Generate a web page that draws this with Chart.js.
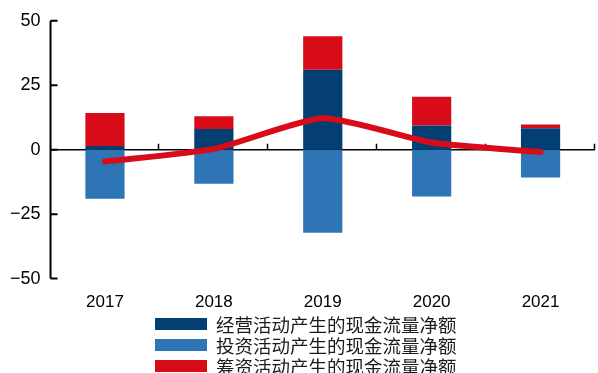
<!DOCTYPE html>
<html>
<head>
<meta charset="utf-8">
<script src="https://cdn.jsdelivr.net/npm/chart.js@4/dist/chart.umd.min.js"></script>
<style>
  body { margin: 0; background: #fff; }
  #wrap { position: relative; width: 598px; height: 373px; }
  #legend { position: absolute; left: 155px; top: 313px; font-family: "Noto Sans CJK SC", sans-serif; font-size: 18.5px; color: #1a1a1a; }
  .row { display: flex; align-items: center; height: 21px; }
  .box { width: 52px; height: 12px; margin-right: 9px; }
</style>
</head>
<body>
<div id="wrap">
  <canvas id="cashChart" width="598" height="373"></canvas>
  <div id="legend"></div>
</div>
<script>
// 年份
const years = ['2017', '2018', '2019', '2020', '2021'];
// 经营 / 投资 / 筹资 现金流量净额
const operating = [1.4, 8.0, 31.0, 9.4, 8.3];
const investing = [-19.0, -13.2, -32.2, -18.2, -10.8];
const financing = [12.8, 5.0, 13.0, 11.1, 1.5];
// 现金净增加额（折线）
const netChange = [-4.6, 0.3, 12.2, 2.8, -0.9];
const yTicks = [-50, -25, 0, 25, 50];

const colors = { operating: '#033f72', investing: '#2e75b6', financing: '#d80c18' };

// 坐标轴：零线、分类刻度、左侧纵轴
const axisLines = {
    id: 'axisLines',
    beforeDatasetsDraw(chart) {
        const { ctx, chartArea, scales: { x, y } } = chart;
        const y0 = y.getPixelForValue(0);
        ctx.save();
        ctx.strokeStyle = '#000';
        ctx.lineWidth = 1.5;
        ctx.beginPath();
        ctx.moveTo(chartArea.left, y0);
        ctx.lineTo(chartArea.right, y0);
        for (let i = 1; i <= years.length; i++) {
            const px = Math.round(x.getPixelForValue(i - 0.5)) - 0.5;
            ctx.moveTo(px, y0);
            ctx.lineTo(px, y0 - 6);
        }
        ctx.stroke();

        ctx.lineWidth = 2;
        ctx.beginPath();
        ctx.moveTo(chartArea.left, y.getPixelForValue(50));
        ctx.lineTo(chartArea.left, y.getPixelForValue(-50));
        yTicks.forEach(v => {
            const py = y.getPixelForValue(v);
            ctx.moveTo(chartArea.left, py);
            ctx.lineTo(chartArea.left + 7, py);
        });
        ctx.stroke();
        ctx.restore();
    }
};

const ctx = document.getElementById('cashChart').getContext('2d');
const chart = new Chart(ctx, {
    type: 'bar',
    data: {
        labels: years,
        datasets: [
            { label: '经营活动产生的现金流量净额', data: operating, backgroundColor: colors.operating, order: 1 },
            { label: '投资活动产生的现金流量净额', data: investing, backgroundColor: colors.investing, order: 1 },
            { label: '筹资活动产生的现金流量净额', data: financing, backgroundColor: colors.financing, order: 1 },
            {
                type: 'line', label: '现金净增加额', data: netChange, stack: 'net',
                borderColor: colors.financing, borderWidth: 6, tension: 0.2,
                pointRadius: 0, borderCapStyle: 'round', order: 0
            }
        ]
    },
    options: {
        responsive: false,
        animation: false,
        barPercentage: 0.36,
        categoryPercentage: 1,
        layout: { padding: { top: 8, left: 0, right: 3, bottom: 46 } },
        plugins: { legend: { display: false }, tooltip: { enabled: false } },
        scales: {
            x: {
                stacked: true,
                grid: { display: false, drawTicks: false },
                border: { display: false },
                ticks: { padding: 14, color: '#000', font: { family: 'Liberation Sans', size: 17 } }
            },
            y: {
                stacked: true,
                min: -50,
                max: 50,
                grid: { display: false, drawTicks: false },
                border: { display: false },
                afterBuildTicks: scale => { scale.ticks = yTicks.map(v => ({ value: v })); },
                ticks: {
                    padding: 10,
                    color: '#000',
                    font: { family: 'Liberation Sans', size: 18 },
                    callback: v => v < 0 ? '\u2212' + Math.abs(v) : v
                }
            }
        }
    },
    plugins: [axisLines]
});

// 图例
const legendEl = document.getElementById('legend');
chart.data.datasets.filter(ds => ds.type !== 'line').forEach(ds => {
    const row = document.createElement('div');
    row.className = 'row';
    row.innerHTML = `<span class="box" style="background:${ds.backgroundColor}"></span><span>${ds.label}</span>`;
    legendEl.appendChild(row);
});
</script>
</body>
</html>
